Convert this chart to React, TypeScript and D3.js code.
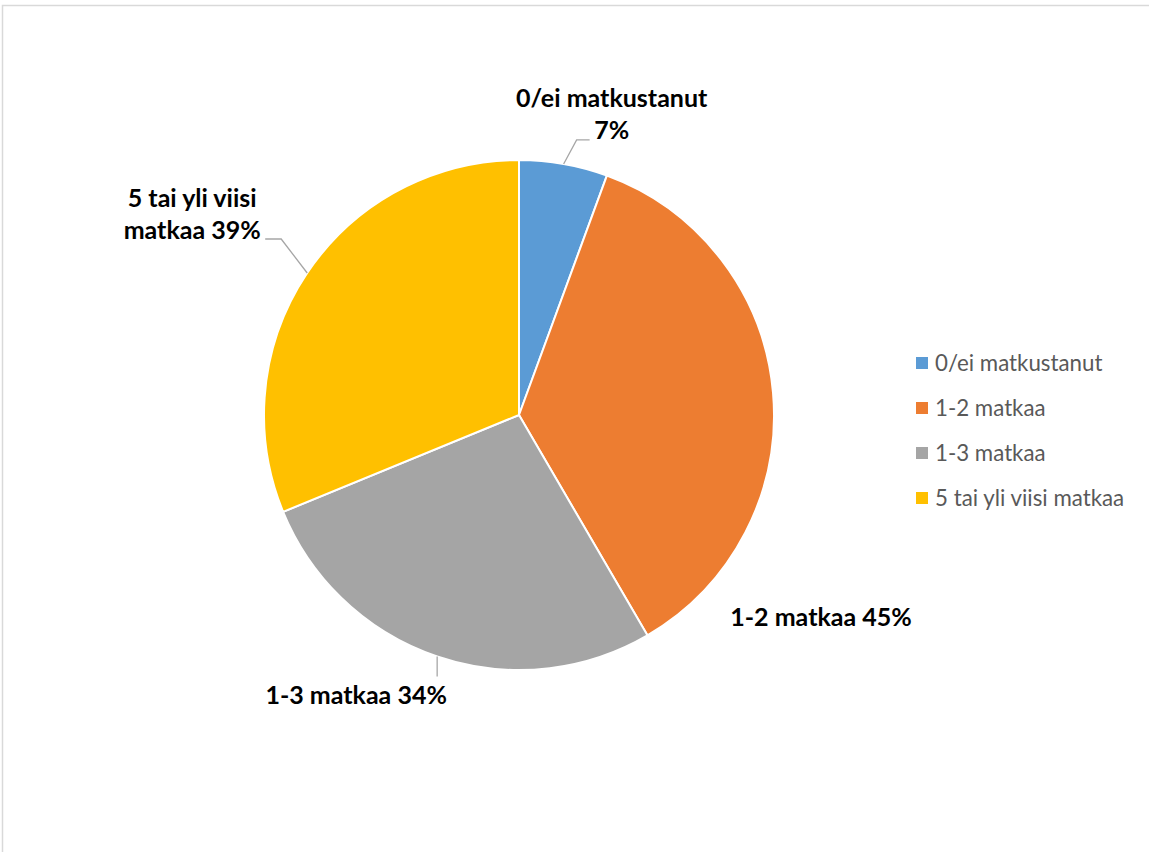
import React from "react";
import * as d3 from "d3";

const categories = ["0/ei matkustanut", "1-2 matkaa", "1-3 matkaa", "5 tai yli viisi matkaa"];
const values = [7, 45, 34, 39];
const labelLines = [["0/ei matkustanut", "7%"], ["1-2 matkaa 45%"], ["1-3 matkaa 34%"], ["5 tai yli viisi", "matkaa 39%"]];
const colors = ["#5B9BD5", "#ED7D31", "#A5A5A5", "#FFC000"];

// layout (offsets from the slice's outer mid-angle point)
const labelLayout = [
  { dx: 48, dy: -57, leader: [[13, -24], [26, -24]] },
  { dx: 48, dy: 233, leader: [] as number[][] },
  { dx: -81, dy: 47, leader: [[0, 20]] },
  { dx: -115, dy: -66, leader: [[-26, -34], [-42, -34]] },
];

const W = 1149, H = 852;
const cx = 519, cy = 415, R = 255;
const FONT = "Lato, 'Open Sans', sans-serif";

export default function App() {
  const pie = d3.pie<number>().sort(null).value((d) => d);
  const arcs = pie(values);
  const arc = d3.arc<d3.PieArcDatum<number>>().innerRadius(0).outerRadius(R);
  const line = d3.line();
  return (
    <svg width={W} height={H} style={{ position: "absolute", left: 0, top: 0, background: "#fff" }}>
      <rect x={2.5} y={5.5} width={1300} height={1000} fill="#fff" stroke="#d9d9d9" strokeWidth={1.5} />
      <g transform={`translate(${cx},${cy})`}>
        {arcs.map((a, i) => (
          <path key={i} d={arc(a) || ""} fill={colors[i]} stroke="#fff" strokeWidth={2} strokeLinejoin="round" />
        ))}
      </g>
      {arcs.map((a, i) => {
        const mid = (a.startAngle + a.endAngle) / 2;
        const px = cx + R * Math.sin(mid);
        const py = cy - R * Math.cos(mid);
        const L = labelLayout[i];
        const pts: [number, number][] = [[px, py], ...L.leader.map((p) => [px + p[0], py + p[1]] as [number, number])];
        return (
          <g key={i}>
            {L.leader.length > 0 && (
              <path d={line(pts) || ""} fill="none" stroke="#A6A6A6" strokeWidth={1.3} />
            )}
            {labelLines[i].map((t, j) => (
              <text key={j} x={px + L.dx} y={py + L.dy + j * 32} textAnchor="middle" fontFamily={FONT}
                fontWeight={700} fontSize={25} fill="#000">{t}</text>
            ))}
          </g>
        );
      })}
      <g>
        {categories.map((c, i) => (
          <g key={i} transform={`translate(916,${363 + i * 45})`}>
            <rect x={0} y={-6} width={12} height={12} fill={colors[i]} />
            <text x={19} y={8} fontFamily={FONT} fontSize={22.3} fill="#595959">{c}</text>
          </g>
        ))}
      </g>
    </svg>
  );
}
